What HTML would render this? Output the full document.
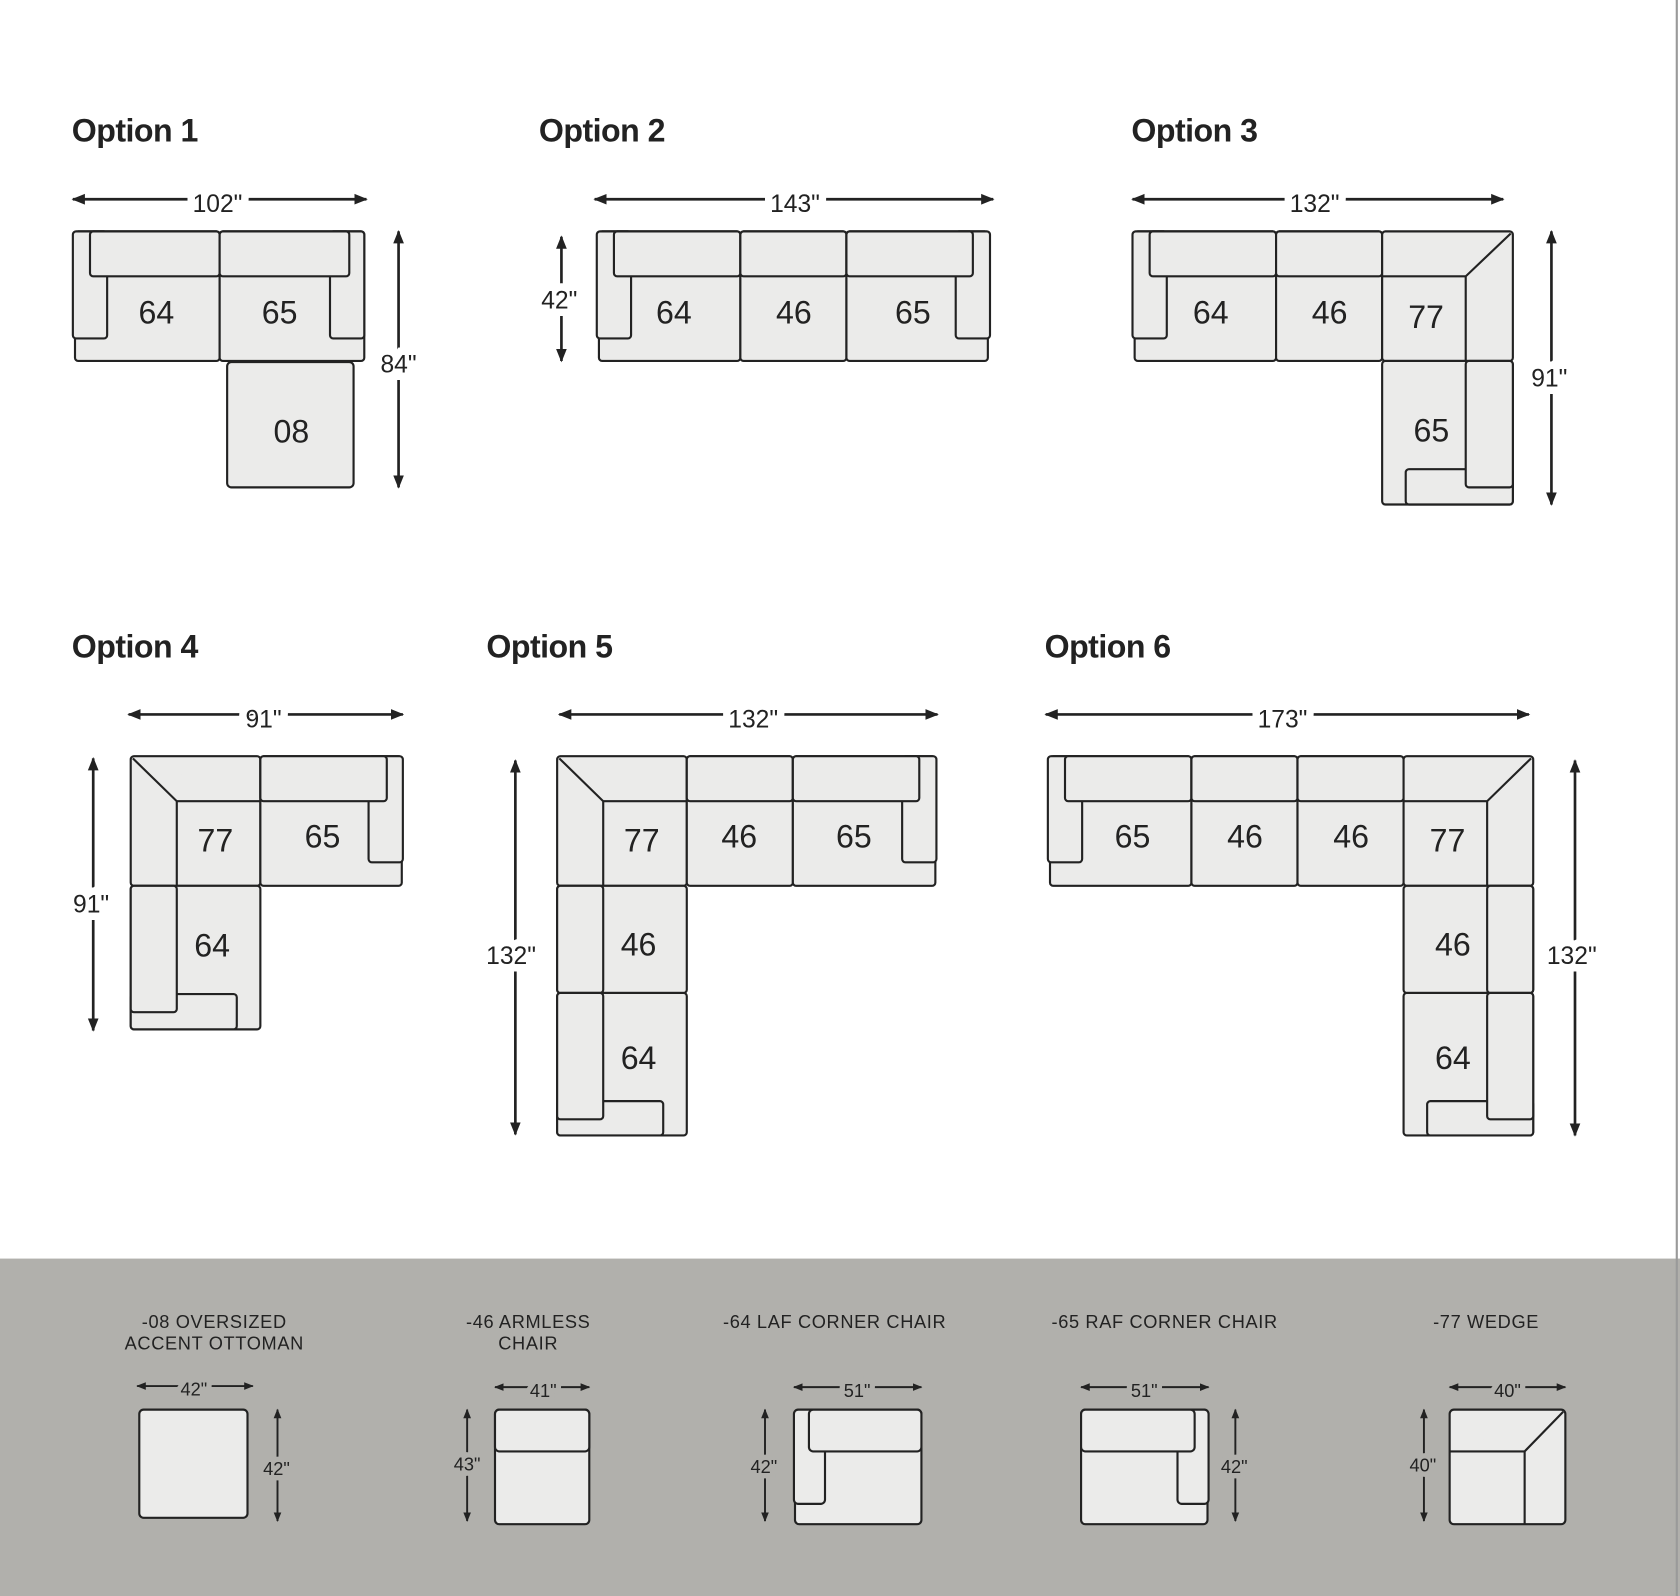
<!DOCTYPE html>
<html><head><meta charset="utf-8"><style>
html,body{margin:0;padding:0;background:#fff}
svg{display:block}
text{font-family:"Liberation Sans",sans-serif;fill:#222}
.t{font-weight:bold;font-size:30px;letter-spacing:-0.5px}
.n{font-size:30px;text-anchor:middle}
.d{font-size:23px;text-anchor:middle;paint-order:stroke;stroke:#fff;stroke-width:14px}
.db{font-size:17px;text-anchor:middle;paint-order:stroke;stroke:#b1b0ac;stroke-width:10px}
.lb{font-size:17px;text-anchor:middle;letter-spacing:0.6px}
.p rect,.p path,.p polygon{fill:#ebebea;stroke:#222;stroke-width:2}
.a{stroke:#222;stroke-width:2.5;fill:none}
.as{stroke:#222;stroke-width:1.8;fill:none}
</style></head><body>
<svg width="1680" height="1596" viewBox="0 0 1568 1490" preserveAspectRatio="none" xmlns="http://www.w3.org/2000/svg">
<defs>
<marker id="m" viewBox="0 0 10 10" refX="9" refY="5" markerWidth="5" markerHeight="5" orient="auto-start-reverse" markerUnits="strokeWidth"><path d="M0,1 L10,5 L0,9 z" fill="#222"/></marker>
</defs>
<rect x="0" y="0" width="1568" height="1490" fill="#fff"/>
<rect x="0" y="1175" width="1568" height="315" fill="#b1b0ac"/>
<line x1="1565" y1="0" x2="1565" y2="1490" stroke="#9a9a9a" stroke-width="2"/>

<!-- titles -->
<text class="t" x="67" y="132">Option 1</text>
<text class="t" x="503" y="132">Option 2</text>
<text class="t" x="1056" y="132">Option 3</text>
<text class="t" x="67" y="614">Option 4</text>
<text class="t" x="454" y="614">Option 5</text>
<text class="t" x="975" y="614">Option 6</text>

<!-- OPTION 1 -->
<line class="a" x1="68" y1="186" x2="342" y2="186" marker-start="url(#m)" marker-end="url(#m)"/>
<text class="d" x="203" y="198">102"</text>
<line class="a" x1="372" y1="216" x2="372" y2="455" marker-start="url(#m)" marker-end="url(#m)"/>
<text class="d" x="372" y="348">84"</text>
<g class="p">
<rect x="70" y="216" width="135" height="121" rx="3"/>
<rect x="68" y="216" width="32" height="100" rx="3"/>
<rect x="84" y="216" width="121" height="42" rx="3"/>
<rect x="205" y="216" width="135" height="121" rx="3"/>
<rect x="308" y="216" width="32" height="100" rx="3"/>
<rect x="205" y="216" width="121" height="42" rx="3"/>
<rect x="212" y="338" width="118" height="117" rx="4"/>
</g>
<text class="n" x="146" y="302">64</text>
<text class="n" x="261" y="302">65</text>
<text class="n" x="272" y="413">08</text>

<!-- OPTION 2 -->
<line class="a" x1="555" y1="186" x2="927" y2="186" marker-start="url(#m)" marker-end="url(#m)"/>
<text class="d" x="742" y="198">143"</text>
<line class="a" x1="524" y1="221" x2="524" y2="337" marker-start="url(#m)" marker-end="url(#m)"/>
<text class="d" x="522" y="288">42"</text>
<g class="p">
<rect x="559" y="216" width="132" height="121" rx="3"/>
<rect x="557" y="216" width="32" height="100" rx="3"/>
<rect x="573" y="216" width="118" height="42" rx="3"/>
<rect x="691" y="216" width="99" height="121" rx="3"/>
<rect x="691" y="216" width="99" height="42" rx="3"/>
<rect x="790" y="216" width="132" height="121" rx="3"/>
<rect x="892" y="216" width="32" height="100" rx="3"/>
<rect x="790" y="216" width="118" height="42" rx="3"/>
</g>
<text class="n" x="629" y="302">64</text>
<text class="n" x="741" y="302">46</text>
<text class="n" x="852" y="302">65</text>

<!-- OPTION 3 -->
<line class="a" x1="1057" y1="186" x2="1403" y2="186" marker-start="url(#m)" marker-end="url(#m)"/>
<text class="d" x="1227" y="198">132"</text>
<line class="a" x1="1448" y1="216" x2="1448" y2="471" marker-start="url(#m)" marker-end="url(#m)"/>
<text class="d" x="1446" y="361">91"</text>
<g class="p">
<rect x="1059" y="216" width="132" height="121" rx="3"/>
<rect x="1057" y="216" width="32" height="100" rx="3"/>
<rect x="1073" y="216" width="118" height="42" rx="3"/>
<rect x="1191" y="216" width="99" height="121" rx="3"/>
<rect x="1191" y="216" width="99" height="42" rx="3"/>
<rect x="1290" y="216" width="122" height="121" rx="3"/>
<path d="M1290,258 H1368 L1410,218 M1368,258 V337" fill="none"/>
<rect x="1290" y="337" width="122" height="134" rx="3"/>
<rect x="1312" y="438" width="100" height="33" rx="3"/>
<rect x="1368" y="337" width="44" height="118" rx="3"/>
</g>
<text class="n" x="1130" y="302">64</text>
<text class="n" x="1241" y="302">46</text>
<text class="n" x="1331" y="306">77</text>
<text class="n" x="1336" y="412">65</text>

<!-- OPTION 4 -->
<line class="a" x1="120" y1="667" x2="376" y2="667" marker-start="url(#m)" marker-end="url(#m)"/>
<text class="d" x="246" y="679">91"</text>
<line class="a" x1="87" y1="708" x2="87" y2="962" marker-start="url(#m)" marker-end="url(#m)"/>
<text class="d" x="85" y="852">91"</text>
<g class="p">
<rect x="122" y="706" width="121" height="121" rx="3"/>
<path d="M243,748 H165 L124,708 M165,748 V827" fill="none"/>
<rect x="243" y="706" width="132" height="121" rx="3"/>
<rect x="344" y="706" width="32" height="99" rx="3"/>
<rect x="243" y="706" width="118" height="42" rx="3"/>
<rect x="122" y="827" width="121" height="134" rx="3"/>
<rect x="122" y="928" width="99" height="33" rx="3"/>
<rect x="122" y="827" width="43" height="118" rx="3"/>
</g>
<text class="n" x="201" y="795">77</text>
<text class="n" x="301" y="791">65</text>
<text class="n" x="198" y="893">64</text>

<!-- OPTION 5 -->
<line class="a" x1="522" y1="667" x2="875" y2="667" marker-start="url(#m)" marker-end="url(#m)"/>
<text class="d" x="703" y="679">132"</text>
<line class="a" x1="481" y1="710" x2="481" y2="1059" marker-start="url(#m)" marker-end="url(#m)"/>
<text class="d" x="477" y="900">132"</text>
<g class="p">
<rect x="520" y="706" width="121" height="121" rx="3"/>
<path d="M641,748 H563 L522,708 M563,748 V827" fill="none"/>
<rect x="641" y="706" width="99" height="121" rx="3"/>
<rect x="641" y="706" width="99" height="42" rx="3"/>
<rect x="740" y="706" width="133" height="121" rx="3"/>
<rect x="842" y="706" width="32" height="99" rx="3"/>
<rect x="740" y="706" width="118" height="42" rx="3"/>
<rect x="520" y="827" width="121" height="100" rx="3"/>
<rect x="520" y="827" width="43" height="100" rx="3"/>
<rect x="520" y="927" width="121" height="133" rx="3"/>
<rect x="520" y="1028" width="99" height="32" rx="3"/>
<rect x="520" y="927" width="43" height="118" rx="3"/>
</g>
<text class="n" x="599" y="795">77</text>
<text class="n" x="690" y="791">46</text>
<text class="n" x="797" y="791">65</text>
<text class="n" x="596" y="892">46</text>
<text class="n" x="596" y="998">64</text>

<!-- OPTION 6 -->
<line class="a" x1="976" y1="667" x2="1427" y2="667" marker-start="url(#m)" marker-end="url(#m)"/>
<text class="d" x="1197" y="679">173"</text>
<line class="a" x1="1470" y1="710" x2="1470" y2="1060" marker-start="url(#m)" marker-end="url(#m)"/>
<text class="d" x="1467" y="900">132"</text>
<g class="p">
<rect x="980" y="706" width="132" height="121" rx="3"/>
<rect x="978" y="706" width="32" height="99" rx="3"/>
<rect x="994" y="706" width="118" height="42" rx="3"/>
<rect x="1112" y="706" width="99" height="121" rx="3"/>
<rect x="1112" y="706" width="99" height="42" rx="3"/>
<rect x="1211" y="706" width="99" height="121" rx="3"/>
<rect x="1211" y="706" width="99" height="42" rx="3"/>
<rect x="1310" y="706" width="121" height="121" rx="3"/>
<path d="M1310,748 H1388 L1429,708 M1388,748 V827" fill="none"/>
<rect x="1310" y="827" width="121" height="100" rx="3"/>
<rect x="1388" y="827" width="43" height="100" rx="3"/>
<rect x="1310" y="927" width="121" height="133" rx="3"/>
<rect x="1332" y="1028" width="99" height="32" rx="3"/>
<rect x="1388" y="927" width="43" height="118" rx="3"/>
</g>
<text class="n" x="1057" y="791">65</text>
<text class="n" x="1162" y="791">46</text>
<text class="n" x="1261" y="791">46</text>
<text class="n" x="1351" y="795">77</text>
<text class="n" x="1356" y="892">46</text>
<text class="n" x="1356" y="998">64</text>

<!-- BOTTOM LEGEND -->
<text class="lb" x="200" y="1240">-08 OVERSIZED</text>
<text class="lb" x="200" y="1260">ACCENT OTTOMAN</text>
<text class="lb" x="493" y="1240">-46 ARMLESS</text>
<text class="lb" x="493" y="1260">CHAIR</text>
<text class="lb" x="779" y="1240">-64 LAF CORNER CHAIR</text>
<text class="lb" x="1087" y="1240">-65 RAF CORNER CHAIR</text>
<text class="lb" x="1387" y="1240">-77 WEDGE</text>

<!-- 08 -->
<line class="as" x1="128" y1="1294" x2="236" y2="1294" marker-start="url(#m)" marker-end="url(#m)"/>
<text class="db" x="181" y="1303">42"</text>
<line class="as" x1="259" y1="1316" x2="259" y2="1420" marker-start="url(#m)" marker-end="url(#m)"/>
<text class="db" x="258" y="1377">42"</text>
<g class="p"><rect x="130" y="1316" width="101" height="101" rx="4"/></g>

<!-- 46 -->
<line class="as" x1="462" y1="1295" x2="550" y2="1295" marker-start="url(#m)" marker-end="url(#m)"/>
<text class="db" x="507" y="1304">41"</text>
<line class="as" x1="436" y1="1316" x2="436" y2="1420" marker-start="url(#m)" marker-end="url(#m)"/>
<text class="db" x="436" y="1373">43"</text>
<g class="p"><rect x="462" y="1316" width="88" height="107" rx="4"/><rect x="462" y="1316" width="88" height="39" rx="4"/></g>

<!-- 64 -->
<line class="as" x1="741" y1="1295" x2="860" y2="1295" marker-start="url(#m)" marker-end="url(#m)"/>
<text class="db" x="800" y="1304">51"</text>
<line class="as" x1="714" y1="1316" x2="714" y2="1420" marker-start="url(#m)" marker-end="url(#m)"/>
<text class="db" x="713" y="1375">42"</text>
<g class="p"><rect x="742" y="1316" width="118" height="107" rx="4"/><rect x="741" y="1316" width="29" height="88" rx="4"/><rect x="755" y="1316" width="105" height="39" rx="4"/></g>

<!-- 65 -->
<line class="as" x1="1009" y1="1295" x2="1128" y2="1295" marker-start="url(#m)" marker-end="url(#m)"/>
<text class="db" x="1068" y="1304">51"</text>
<line class="as" x1="1153" y1="1316" x2="1153" y2="1420" marker-start="url(#m)" marker-end="url(#m)"/>
<text class="db" x="1152" y="1375">42"</text>
<g class="p"><rect x="1009" y="1316" width="118" height="107" rx="4"/><rect x="1099" y="1316" width="29" height="88" rx="4"/><rect x="1009" y="1316" width="106" height="39" rx="4"/></g>

<!-- 77 -->
<line class="as" x1="1353" y1="1295" x2="1461" y2="1295" marker-start="url(#m)" marker-end="url(#m)"/>
<text class="db" x="1407" y="1304">40"</text>
<line class="as" x1="1329" y1="1316" x2="1329" y2="1420" marker-start="url(#m)" marker-end="url(#m)"/>
<text class="db" x="1328" y="1374">40"</text>
<g class="p"><rect x="1353" y="1316" width="108" height="107" rx="4"/><path d="M1353,1355 H1423 L1459,1318 M1423,1355 V1423" fill="none"/></g>
</svg>
</body></html>
